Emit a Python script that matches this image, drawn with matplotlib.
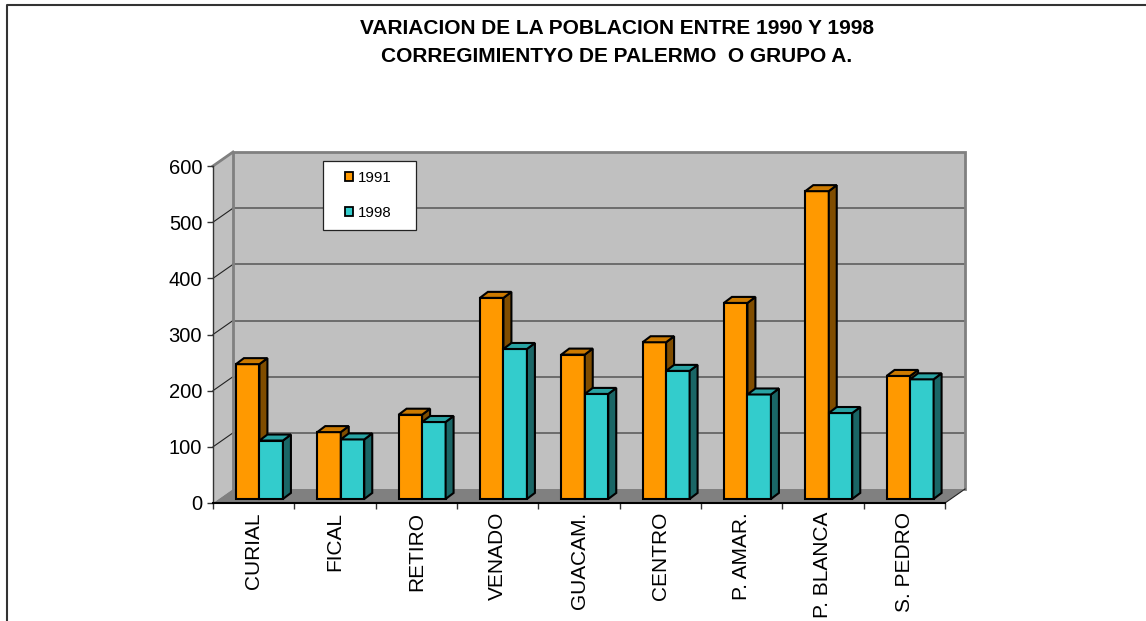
import numpy as np
import matplotlib
matplotlib.use("Agg")
import matplotlib.pyplot as plt
from matplotlib.patches import Polygon, Patch, Rectangle
from matplotlib.lines import Line2D

plt.rcParams['font.family'] = ['Liberation Sans', 'DejaVu Sans']

# datos
categories = ['CURIAL', 'FICAL', 'RETIRO', 'VENADO', 'GUACAM.',
              'CENTRO', 'P. AMAR.', 'P. BLANCA', 'S. PEDRO']
pop_1991 = [240, 119, 150, 358, 257, 279, 349, 548, 219]
pop_1998 = [104, 106, 137, 267, 187, 228, 186, 153, 213]
series_labels = ['1991', '1998']
y_ticks = [0, 100, 200, 300, 400, 500, 600]

W, H = 1146, 621
fig = plt.figure(figsize=(W / 100, H / 100), dpi=100)


def fx(px):
    return px / W


def fy(py):
    return 1 - py / H


# ejes: frente del grafico 3D
ax = fig.add_axes([fx(213), fy(503), (945 - 213) / W, (503 - 166) / H])
n = len(categories)
ymax = y_ticks[-1]
ax.set_xlim(0, n)
ax.set_ylim(0, ymax)
ax.patch.set_visible(False)

# profundidad de paredes y barras (en unidades de datos)
wdx, wdy = 0.246, 24.9
bfx, bfy = 0.071, 7.2
bdx, bdy = 0.098, 10.7
bw = 0.289
start = 0.211

wall_c = '#C0C0C0'
edge_c = '#808080'

# pared del fondo, pared lateral, piso
ax.add_patch(Polygon([(wdx, wdy), (n + wdx, wdy), (n + wdx, ymax + wdy), (wdx, ymax + wdy)],
                     closed=True, facecolor=wall_c, edgecolor='none', zorder=0, clip_on=False))
ax.add_patch(Polygon([(0, 0), (wdx, wdy), (wdx, ymax + wdy), (0, ymax)],
                     closed=True, facecolor=wall_c, edgecolor='none', zorder=0, clip_on=False))
ax.add_patch(Polygon([(0, 0), (n, 0), (n + wdx, wdy), (wdx, wdy)],
                     closed=True, facecolor='#808080', edgecolor='none', zorder=0.5, clip_on=False))

# lineas de division
for v in y_ticks[1:-1]:
    ax.plot([wdx, n + wdx], [v + wdy, v + wdy], color='#555555', lw=1.1, zorder=1, clip_on=False)
for v in y_ticks[1:]:
    ax.plot([0, wdx], [v, v + wdy], color='#222222', lw=0.8, zorder=1, clip_on=False)

# bordes de las paredes
ax.plot([wdx, wdx, n + wdx, n + wdx], [wdy, ymax + wdy, ymax + wdy, wdy],
        color=edge_c, lw=2, zorder=1.2, clip_on=False, solid_joinstyle='miter')
ax.plot([0, wdx], [ymax, ymax + wdy], color=edge_c, lw=2, zorder=1.2, clip_on=False)
ax.plot([n, n + wdx], [0, wdy], color='#222222', lw=0.8, zorder=1.2, clip_on=False)

# barras 3D
styles = [('#FF9900', '#CC7A00', '#804D00'),
          ('#33CCCC', '#29A3A3', '#1A6666')]
x = np.arange(n)
lw_bar = 1.5
for s, vals in enumerate([pop_1991, pop_1998]):
    front, top, side = styles[s]
    x0 = x + start + s * bw + bfx
    ax.bar(x0, vals, width=bw, bottom=bfy, align='edge', color=front,
           edgecolor='black', linewidth=lw_bar, zorder=3 + s, clip_on=False)
    for xi, h in zip(x0, vals):
        yt = bfy + h
        ax.add_patch(Polygon([(xi + bw, bfy), (xi + bw + bdx, bfy + bdy),
                              (xi + bw + bdx, yt + bdy), (xi + bw, yt)],
                             closed=True, facecolor=side, edgecolor='black',
                             linewidth=lw_bar, zorder=3 + s, clip_on=False))
        ax.add_patch(Polygon([(xi, yt), (xi + bdx, yt + bdy),
                              (xi + bw + bdx, yt + bdy), (xi + bw, yt)],
                             closed=True, facecolor=top, edgecolor='black',
                             linewidth=lw_bar, zorder=3 + s, clip_on=False))

# ejes
for sp in ['top', 'right']:
    ax.spines[sp].set_visible(False)
ax.spines['left'].set_color('#333333')
ax.spines['left'].set_linewidth(1.0)
ax.spines['bottom'].set_color('black')
ax.spines['bottom'].set_linewidth(1.5)
ax.spines['left'].set_zorder(5)
ax.spines['bottom'].set_zorder(5)

ax.set_yticks(y_ticks)
ax.tick_params(axis='y', direction='out', length=4.3, width=1, color='#333333',
               pad=3.5, labelsize=14.5)
ax.set_xticks(np.arange(n + 1))
ax.set_xticklabels([])
ax.set_xticks(x + 0.5, minor=True)
ax.set_xticklabels(categories, minor=True)
ax.tick_params(axis='x', which='major', direction='out', length=4.3, width=1, color='#333333')
ax.tick_params(axis='x', which='minor', length=0, pad=6.5, labelsize=15, labelrotation=90)

# leyenda
fig.add_artist(Rectangle((fx(323), fy(230)), (416 - 323) / W, (230 - 161) / H,
                         transform=fig.transFigure, facecolor='white',
                         edgecolor='#222222', linewidth=0.9, zorder=6))
handles = [Patch(facecolor=styles[i][0], edgecolor='black', linewidth=1.3,
                 label=series_labels[i]) for i in range(2)]
leg = fig.legend(handles=handles, loc='upper left',
                 bbox_to_anchor=(fx(345), fy(171)), frameon=False,
                 fontsize=10.8, handlelength=0.55, handleheight=0.55,
                 handletextpad=0.3, labelspacing=1.4, borderpad=0, borderaxespad=0)
leg.set_zorder(7)

# titulo
fig.text(fx(617), fy(29), 'VARIACION DE LA POBLACION ENTRE 1990 Y 1998',
         ha='center', va='center', fontsize=15, fontweight='bold')
fig.text(fx(617), fy(56.5), 'CORREGIMIENTYO DE PALERMO  O GRUPO A.',
         ha='center', va='center', fontsize=15, fontweight='bold')

# marco exterior
fig.add_artist(Line2D([fx(7), fx(7), fx(W + 5)], [fy(H + 5), fy(5), fy(5)],
                      transform=fig.transFigure, color='#333333', lw=1.5))

fig.savefig('out.png', dpi=100)
